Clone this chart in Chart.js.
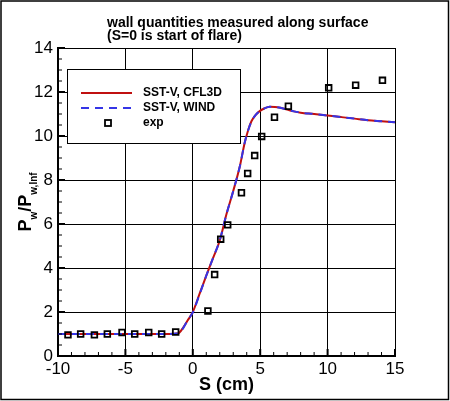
<!DOCTYPE html>
<html>
<head>
<meta charset="utf-8">
<script src="https://cdn.jsdelivr.net/npm/chart.js@4"></script>
<style>
  html, body { margin: 0; padding: 0; background: #fff; }
  #wrap { width: 450px; height: 401px; }
</style>
</head>
<body>
<div id="wrap"><canvas id="chart" width="450" height="401"></canvas></div>
<script>
// values
const sCfl3d = [-10, -8, -6, -4, -2, -1.2, -1.0, -0.7, -0.4, 0, 0.5, 1.0, 1.5, 2.0, 2.5, 3.0, 3.5, 3.85, 4.1, 4.35, 4.65, 4.96, 5.3, 5.7, 6.1, 6.5, 7.0, 7.5, 8, 9, 10, 11, 12, 13, 14, 15];
const pCfl3d = [1.0, 1.0, 1.0, 1.0, 1.0, 1.02, 1.06, 1.3, 1.6, 2.0, 2.82, 3.65, 4.45, 5.25, 6.45, 7.5, 8.65, 9.69, 10.25, 10.67, 10.95, 11.13, 11.25, 11.33, 11.32, 11.28, 11.2, 11.12, 11.06, 11.0, 10.93, 10.86, 10.79, 10.72, 10.67, 10.62];
const sWind = [-10, -8, -6, -4, -2, -1.2, -1.0, -0.7, -0.4, 0, 0.5, 1.0, 1.5, 2.0, 2.5, 3.0, 3.5, 3.85, 4.1, 4.35, 4.65, 4.96, 5.3, 5.7, 6.1, 6.5, 7.0, 7.5, 8, 9, 10, 11, 12, 13, 14, 15];
const pWind = [1.0, 1.0, 1.0, 1.0, 1.0, 1.02, 1.05, 1.28, 1.6, 1.98, 2.8, 3.65, 4.45, 5.27, 6.45, 7.5, 8.65, 9.7, 10.25, 10.66, 10.95, 11.13, 11.25, 11.33, 11.32, 11.28, 11.2, 11.12, 11.06, 11.0, 10.93, 10.86, 10.79, 10.72, 10.67, 10.62];
const sExp = [-9.26, -8.32, -7.30, -6.34, -5.25, -4.31, -3.27, -2.31, -1.27, 1.12, 1.62, 2.07, 2.59, 3.61, 4.07, 4.59, 5.11, 6.06, 7.09, 10.08, 12.08, 14.07];
const pExp = [0.96, 1.00, 0.96, 1.00, 1.07, 1.00, 1.07, 1.00, 1.09, 2.05, 3.70, 5.31, 5.96, 7.42, 8.30, 9.11, 9.98, 10.85, 11.35, 12.19, 12.31, 12.53];

const titleLines = ['wall quantities measured along surface', '(S=0 is start of flare)'];
const xTitle = 'S (cm)';

const FONT = '"Liberation Sans", Arial, Helvetica, sans-serif';
const RED = '#c01010';
const BLUE = '#3535e6';

function pairs(xs, ys) {
    return xs.map((x, i) => ({ x: x, y: ys[i] }));
}

// Title, axis titles, inward ticks, legend and frame
const decor = {
    id: 'decor',
    afterDraw(chart) {
        const ctx = chart.ctx;
        const area = chart.chartArea;
        const xs = chart.scales.x;
        const ys = chart.scales.y;
        ctx.save();

        // outer frame
        ctx.strokeStyle = '#000';
        ctx.lineWidth = 1.5;
        ctx.strokeRect(1, 1, 447.5, 398.5);

        // title
        ctx.fillStyle = '#000';
        ctx.font = 'bold 14px ' + FONT;
        ctx.textAlign = 'left';
        ctx.textBaseline = 'alphabetic';
        ctx.fillText(titleLines[0], 107, 27);
        ctx.fillText(titleLines[1], 107, 40);

        // ticks pointing into the plot
        ctx.strokeStyle = '#000';
        for (let v = -10; v <= 15; v += 1) {
            const px = xs.getPixelForValue(v);
            const major = v % 5 === 0;
            ctx.lineWidth = major ? 2 : 1;
            ctx.beginPath();
            ctx.moveTo(px, area.bottom);
            ctx.lineTo(px, area.bottom - (major ? 7 : 4));
            ctx.stroke();
        }
        for (let v = 0; v <= 14; v += 0.5) {
            const py = ys.getPixelForValue(v);
            const major = v % 2 === 0;
            ctx.lineWidth = major ? 2 : 1;
            ctx.beginPath();
            ctx.moveTo(area.left, py);
            ctx.lineTo(area.left + (major ? 7 : 4), py);
            ctx.stroke();
        }

        // x axis title
        ctx.font = 'bold 18px ' + FONT;
        ctx.textAlign = 'center';
        ctx.textBaseline = 'alphabetic';
        ctx.fillText(xTitle, (area.left + area.right) / 2, 390);

        // y axis title with subscripts
        const parts = [
            { t: 'P', f: 'bold 18px ', dy: 0 },
            { t: 'w', f: 'bold 10px ', dy: 6 },
            { t: '/P', f: 'bold 18px ', dy: 0 },
            { t: 'w,Inf', f: 'bold 10px ', dy: 6 }
        ];
        let total = 0;
        parts.forEach(p => { ctx.font = p.f + FONT; p.w = ctx.measureText(p.t).width; total += p.w; });
        ctx.translate(31, (area.top + area.bottom) / 2);
        ctx.rotate(-Math.PI / 2);
        ctx.textAlign = 'left';
        let cx = -total / 2;
        parts.forEach(p => {
            ctx.font = p.f + FONT;
            ctx.fillText(p.t, cx, p.dy);
            cx += p.w;
        });
        ctx.setTransform(1, 0, 0, 1, 0, 0);
        ctx.scale(chart.currentDevicePixelRatio, chart.currentDevicePixelRatio);

        // legend box
        const ds = chart.data.datasets;
        ctx.fillStyle = '#fff';
        ctx.fillRect(67, 69, 173, 74);
        ctx.lineWidth = 1;
        ctx.strokeStyle = '#000';
        ctx.strokeRect(67.5, 69.5, 173, 74);
        const rows = [93, 108, 123];
        ds.forEach((d, i) => {
            const y = rows[i];
            if (d.showLine) {
                ctx.strokeStyle = d.borderColor;
                ctx.lineWidth = d.borderWidth;
                ctx.setLineDash(d.borderDash || []);
                ctx.beginPath();
                ctx.moveTo(81, y);
                ctx.lineTo(132, y);
                ctx.stroke();
                ctx.setLineDash([]);
            } else {
                ctx.strokeStyle = '#000';
                ctx.lineWidth = 1.8;
                ctx.strokeRect(105, y - 3, 6, 6);
            }
            ctx.fillStyle = '#000';
            ctx.font = 'bold 12px ' + FONT;
            ctx.textAlign = 'left';
            ctx.textBaseline = 'middle';
            ctx.fillText(d.label, 143, y);
        });
        ctx.restore();
    }
};

new Chart(document.getElementById('chart'), {
    type: 'line',
    data: {
        datasets: [
            {
                label: 'SST-V, CFL3D',
                data: pairs(sCfl3d, pCfl3d),
                showLine: true,
                borderColor: RED,
                borderWidth: 2,
                pointRadius: 0,
                cubicInterpolationMode: 'monotone',
                order: 2
            },
            {
                label: 'SST-V, WIND',
                data: pairs(sWind, pWind),
                showLine: true,
                borderColor: BLUE,
                borderWidth: 2,
                borderDash: [8, 6],
                pointRadius: 0,
                cubicInterpolationMode: 'monotone',
                order: 1
            },
            {
                label: 'exp',
                data: pairs(sExp, pExp),
                showLine: false,
                pointStyle: 'rect',
                pointRadius: 4,
                pointBorderWidth: 1.8,
                pointBorderColor: '#000',
                pointBackgroundColor: 'rgba(0,0,0,0)',
                order: 0
            }
        ]
    },
    options: {
        responsive: false,
        animation: false,
        layout: { padding: { top: 48, left: 0, right: 55, bottom: 0 } },
        plugins: {
            legend: { display: false },
            title: { display: false },
            tooltip: { enabled: false }
        },
        scales: {
            x: {
                type: 'linear',
                min: -10,
                max: 15,
                afterFit(scale) { scale.height = 45; },
                ticks: {
                    stepSize: 5,
                    padding: 3,
                    color: '#000',
                    maxRotation: 0,
                    font: { family: FONT, size: 17 }
                },
                grid: { color: '#000', lineWidth: 1, drawTicks: false },
                border: { color: '#000', width: 2 }
            },
            y: {
                min: 0,
                max: 14,
                afterFit(scale) { scale.width = 58; },
                ticks: {
                    stepSize: 2,
                    padding: 5,
                    color: '#000',
                    font: { family: FONT, size: 17 }
                },
                grid: { color: '#000', lineWidth: 1, drawTicks: false },
                border: { color: '#000', width: 2 }
            }
        }
    },
    plugins: [decor]
});
</script>
</body>
</html>
